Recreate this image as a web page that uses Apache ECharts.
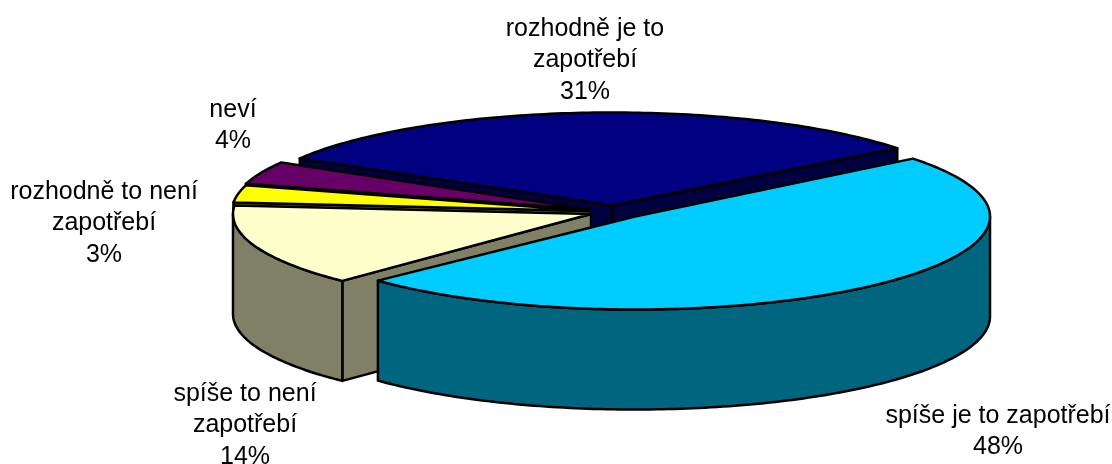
<!DOCTYPE html>
<html>
<head>
<meta charset="utf-8">
<title>pie</title>
<style>
  html, body { margin: 0; padding: 0; background: #fff; }
  #chart { width: 1112px; height: 464px; }
</style>
<script src="https://cdn.jsdelivr.net/npm/echarts@6/dist/echarts.min.js"></script>
</head>
<body>
<div id="chart"></div>
<script>
// data, clockwise from the upper right edge of the big slice
var categories = ['spíše je to zapotřebí', 'spíše to není\nzapotřebí', 'rozhodně to není\nzapotřebí', 'neví', 'rozhodně je to\nzapotřebí'];
var values = [48, 14, 3, 4, 31];
var topColors = ['#00CCFF', '#FFFFCC', '#FFFF00', '#660066', '#000080'];
var sideColors = ['#006680', '#808066', '#808000', '#330033', '#000040'];

// layout per slice (exploded pie, original has slight perspective)
var labelCenters = [[998, 416], [245, 394], [104, 192], [233, 110], [585, 29]]; // middle of first line
var sliceCenters = [[635, 216.5], [591, 214], [590, 211], [590, 209.5], [612, 205.5]];
var sliceRadiiX = [355, 358, 358, 358, 362];
var edgeNudge = [[-0.5, 1.6], [-0.8, 0], [0, 0], [0, 0], [0, 0]]; // degrees
var RY = 93, DEPTH = 100;
var START_ANGLE = -38, LINE_H = 31.5;

var total = values.reduce(function (a, b) { return a + b; }, 0);
var slices = [];
var acc = START_ANGLE;
values.forEach(function (v, i) {
  var sweep = v / total * 360;
  slices.push({ index: i, from: acc + edgeNudge[i][0], to: acc + sweep + edgeNudge[i][1] });
  acc += sweep;
});

function rad(d) { return d * Math.PI / 180; }

function arcPoints(c, rx, from, to, dy) {
  var pts = [];
  var n = Math.max(2, Math.ceil(Math.abs(to - from)));
  for (var k = 0; k <= n; k++) {
    var a = rad(from + (to - from) * k / n);
    pts.push([c[0] + rx * Math.cos(a), c[1] + dy + RY * Math.sin(a)]);
  }
  return pts;
}

function poly(points, fill) {
  return {
    type: 'polygon',
    shape: { points: points },
    style: { fill: fill, stroke: '#000', lineWidth: 2.5, lineJoin: 'round' }
  };
}

function radialFace(c, rx, angle, fill) {
  var a = rad(angle);
  var ox = c[0] + rx * Math.cos(a), oy = c[1] + RY * Math.sin(a);
  return poly([[c[0], c[1]], [ox, oy], [ox, oy + DEPTH], [c[0], c[1] + DEPTH]], fill);
}

function renderSlice(params, api) {
  var s = slices[api.value(0)];
  var i = s.index;
  var c = sliceCenters[i], rx = sliceRadiiX[i];
  var kids = [];
  if (Math.cos(rad(s.from)) < 0) kids.push(radialFace(c, rx, s.from, sideColors[i]));
  if (Math.cos(rad(s.to)) > 0) kids.push(radialFace(c, rx, s.to, sideColors[i]));
  // outer wall only on the front half
  var w0 = Math.max(s.from, 0), w1 = Math.min(s.to, 180);
  if (w1 > w0) {
    kids.push(poly(arcPoints(c, rx, w0, w1, 0).concat(arcPoints(c, rx, w1, w0, DEPTH)), sideColors[i]));
  }
  kids.push(poly([c].concat(arcPoints(c, rx, s.from, s.to, 0)), topColors[i]));
  return { type: 'group', children: kids };
}

function renderLabel(params, api) {
  var i = api.value(0);
  return {
    type: 'text',
    x: labelCenters[i][0],
    y: labelCenters[i][1] - LINE_H / 2,
    style: {
      text: categories[i] + '\n' + Math.round(values[i] / total * 100) + '%',
      font: '25px "Liberation Sans", Arial, sans-serif',
      fill: '#000',
      align: 'center',
      verticalAlign: 'top',
      lineHeight: LINE_H
    }
  };
}

var chart = echarts.init(document.getElementById('chart'), null, { renderer: 'canvas' });
chart.setOption({
  animation: false,
  backgroundColor: '#fff',
  tooltip: { show: false },
  series: [{
    type: 'custom',
    coordinateSystem: 'none',
    silent: true,
    renderItem: renderSlice,
    // back slices first, big front slice last
    data: [4, 3, 2, 1, 0].map(function (n) { return [n]; })
  }, {
    type: 'custom',
    coordinateSystem: 'none',
    silent: true,
    renderItem: renderLabel,
    data: [0, 1, 2, 3, 4].map(function (n) { return [n]; })
  }]
});
</script>
</body>
</html>
